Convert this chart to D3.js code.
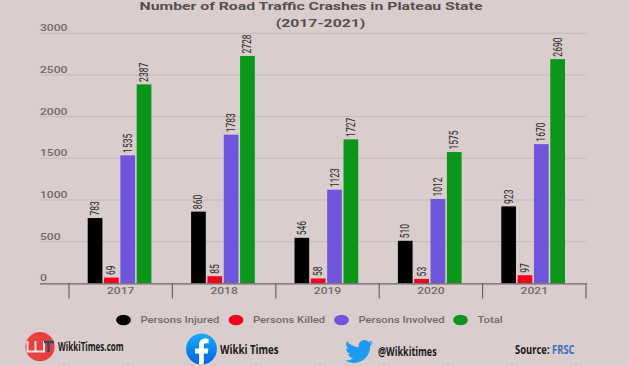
<!DOCTYPE html>
<html>
<head>
<meta charset="utf-8">
<script src="https://d3js.org/d3.v7.min.js"></script>
<style>
  html, body { margin: 0; padding: 0; background: #d9cdcd; }
  svg { display: block; }
  text { font-family: Roboto, sans-serif; }
</style>
</head>
<body>
<div id="chart"></div>
<script>
var YEARS    = ["2017", "2018", "2019", "2020", "2021"];
var SERIES   = ["Persons Injured", "Persons Killed", "Persons Involved", "Total"];
var COLORS   = ["#000000", "#f5001e", "#6e55dc", "#0a9619"];
var INJURED  = [783, 860, 546, 510, 923];
var KILLED   = [69, 85, 58, 53, 97];
var INVOLVED = [1535, 1783, 1123, 1012, 1670];
var TOTAL    = [2387, 2728, 1727, 1575, 2690];
var Y_TICKS  = [0, 500, 1000, 1500, 2000, 2500, 3000];
var TITLE    = ["Number of Road Traffic Crashes in Plateau State", "(2017-2021)"];

var VALUES = [INJURED, KILLED, INVOLVED, TOTAL];

var width = 629, height = 366;

var svg = d3.select("#chart").append("svg")
    .attr("width", width)
    .attr("height", height);

var x = d3.scaleBand().domain(YEARS).range([69, 586]);
var inner = d3.scaleBand().domain(d3.range(SERIES.length))
    .range([18.7, 82.4]).paddingInner(0.1);
var y = d3.scaleLinear().domain([0, 3000]).range([283.3, 33.3]);

// the picture is stretched sideways, so most text gets a horizontal scale
function stretched(px, py, sx) {
  return "translate(" + px + "," + py + ") scale(" + sx + ",1)";
}

// title (second line sits a bit right of the first one in the original)
var titleX = [311, 320.5];
svg.selectAll(".title").data(TITLE).enter().append("text")
    .attr("class", "title")
    .attr("transform", function(d, i) { return stretched(titleX[i], 10 + i * 16.5, 1.35); })
    .attr("text-anchor", "middle")
    .attr("font-size", 11.7)
    .attr("font-weight", 700)
    .attr("fill", "#555050")
    .text(function(d) { return d; });

// grid
svg.selectAll(".grid").data(Y_TICKS.slice(1)).enter().append("line")
    .attr("class", "grid")
    .attr("x1", 40).attr("x2", 586)
    .attr("y1", function(d) { return y(d); })
    .attr("y2", function(d) { return y(d); })
    .attr("stroke", "#c5baba");

svg.selectAll(".ylab").data(Y_TICKS).enter().append("text")
    .attr("class", "ylab")
    .attr("transform", function(d) { return stretched(40, y(d) - 2, 1.27); })
    .attr("font-size", 9.5)
    .attr("font-weight", 500)
    .attr("fill", "#6f6a6a")
    .text(function(d) { return d; });

// bars
var groups = svg.selectAll(".year").data(YEARS).enter().append("g")
    .attr("class", "year")
    .attr("transform", function(d) { return "translate(" + x(d) + ",0)"; });

groups.each(function(year, yi) {
  var g = d3.select(this);
  VALUES.forEach(function(vals, si) {
    var v = vals[yi];
    g.append("rect")
        .attr("x", inner(si))
        .attr("y", y(v))
        .attr("width", inner.bandwidth())
        .attr("height", y(0) - y(v))
        .attr("fill", COLORS[si]);
    var lx = inner(si) + inner.bandwidth() / 2, ly = y(v) - 2.5;
    g.append("text")
        .attr("transform", "translate(" + (lx + 4) + "," + ly + ") rotate(-90) scale(0.68,1)")
        .attr("font-size", 12.5)
        .attr("fill", "#2b2b2b")
        .text(v);
  });
});

// x axis
svg.append("line")
    .attr("x1", 40).attr("x2", 587)
    .attr("y1", y(0) + 0.5).attr("y2", y(0) + 0.5)
    .attr("stroke", "#6a6565")
    .attr("stroke-width", 1.2);

svg.selectAll(".xtick").data(YEARS.concat(["end"])).enter().append("line")
    .attr("class", "xtick")
    .attr("x1", function(d, i) { return 69 + i * x.step(); })
    .attr("x2", function(d, i) { return 69 + i * x.step(); })
    .attr("y1", y(0)).attr("y2", 298.5)
    .attr("stroke", "#6a6565")
    .attr("stroke-width", 1.2);

svg.selectAll(".xlab").data(YEARS).enter().append("text")
    .attr("class", "xlab")
    .attr("transform", function(d) { return stretched(x(d) + x.bandwidth() / 2, 294, 1.27); })
    .attr("text-anchor", "middle")
    .attr("font-size", 9.5)
    .attr("font-weight", 500)
    .attr("fill", "#6f6a6a")
    .text(function(d) { return d; });

// legend
var legendX = [123.5, 236, 341.5, 460.5];
var legend = svg.selectAll(".legend").data(SERIES).enter().append("g")
    .attr("class", "legend")
    .attr("transform", function(d, i) { return "translate(" + legendX[i] + ",320)"; });
legend.append("ellipse")
    .attr("rx", 7.4).attr("ry", 5.3)
    .attr("fill", function(d, i) { return COLORS[i]; });
legend.append("text")
    .attr("transform", stretched(17, 3.3, 1.25))
    .attr("font-size", 9)
    .attr("font-weight", 500)
    .attr("fill", "#6f6a6a")
    .text(function(d) { return d; });

// footer: wikkitimes logo
var brand = "'Open Sans', sans-serif";
svg.append("circle").attr("cx", 40).attr("cy", 346.7).attr("r", 14.6).attr("fill", "#e8403f");
svg.append("path")
    .attr("d", "M27.5,341 V351.5 H44 V341 M35.5,341 V351.5")
    .attr("fill", "none").attr("stroke", "#f6e4e4").attr("stroke-width", 2);
svg.append("path")
    .attr("d", "M44,342 H54 M48.5,342 V352")
    .attr("fill", "none").attr("stroke", "#34466e").attr("stroke-width", 2.4);
svg.append("text")
    .attr("transform", stretched(58, 351, 0.67))
    .attr("font-size", 12).attr("font-weight", 700).attr("fill", "#1a1a1a")
    .style("font-family", brand).text("WikkiTimes.com");

// facebook logo
var fbGrad = svg.append("defs").append("linearGradient")
    .attr("id", "fbGrad").attr("x1", 0).attr("y1", 0).attr("x2", 0).attr("y2", 1);
fbGrad.append("stop").attr("offset", "0%").attr("stop-color", "#18acfe");
fbGrad.append("stop").attr("offset", "100%").attr("stop-color", "#0163e0");
svg.append("clipPath").attr("id", "fbClip").append("circle")
    .attr("cx", 201.5).attr("cy", 349).attr("r", 15.4);
svg.append("circle").attr("cx", 201.5).attr("cy", 349).attr("r", 15.4).attr("fill", "url(#fbGrad)");
svg.append("path")
    .attr("clip-path", "url(#fbClip)")
    .attr("d", "M199,366 V353.5 H195 V348.5 H199 V345 C199,340.8 201.5,338.6 205.2,338.6 C206.8,338.6 208.2,338.8 208.6,338.9 V343.2 H206 C204.2,343.2 203.8,344.1 203.8,345.4 V348.5 H208.4 L207.7,353.5 H203.8 V366 Z")
    .attr("fill", "#fff");
svg.append("text")
    .attr("transform", stretched(220, 354, 0.78))
    .attr("font-size", 12.5).attr("font-weight", 700).attr("fill", "#1a1a1a")
    .style("font-family", brand).text("Wikki Times");

// twitter bird
svg.append("path")
    .attr("transform", "translate(345,337.5) scale(1.17)")
    .attr("d", "M23.95 4.57a10 10 0 0 1-2.82.77 4.96 4.96 0 0 0 2.16-2.72c-.95.55-2 .96-3.12 1.18a4.92 4.92 0 0 0-8.38 4.48A13.98 13.98 0 0 1 1.64 3.16a4.82 4.82 0 0 0-.66 2.48c0 1.71.87 3.21 2.19 4.1a4.9 4.9 0 0 1-2.23-.62v.06a4.92 4.92 0 0 0 3.95 4.83 5 5 0 0 1-2.21.08 4.94 4.94 0 0 0 4.6 3.42A9.87 9.87 0 0 1 0 19.54a14 14 0 0 0 7.56 2.21c9.05 0 14-7.5 14-13.98 0-.21 0-.42-.02-.63a9.94 9.94 0 0 0 2.46-2.55z")
    .attr("fill", "#1d9bf0");
svg.append("text")
    .attr("transform", stretched(378, 355.5, 0.75))
    .attr("font-size", 12).attr("font-weight", 700).attr("fill", "#1a1a1a")
    .style("font-family", brand).text("@Wikkitimes");

svg.append("text")
    .attr("transform", stretched(515, 354, 0.82))
    .attr("font-size", 11.5).attr("font-weight", 700)
    .style("font-family", brand)
    .call(function(t) {
      t.append("tspan").attr("fill", "#1a1a1a").text("Source: ");
      t.append("tspan").attr("fill", "#3f6fc0").text("FRSC");
    });

// faint ticks left at the very bottom edge of the original
svg.selectAll(".edge").data(d3.range(64, 629, 64)).enter().append("line")
    .attr("class", "edge")
    .attr("x1", function(d) { return d; }).attr("x2", function(d) { return d; })
    .attr("y1", 364).attr("y2", 366)
    .attr("stroke", "#bdb2b2");
</script>
</body>
</html>
